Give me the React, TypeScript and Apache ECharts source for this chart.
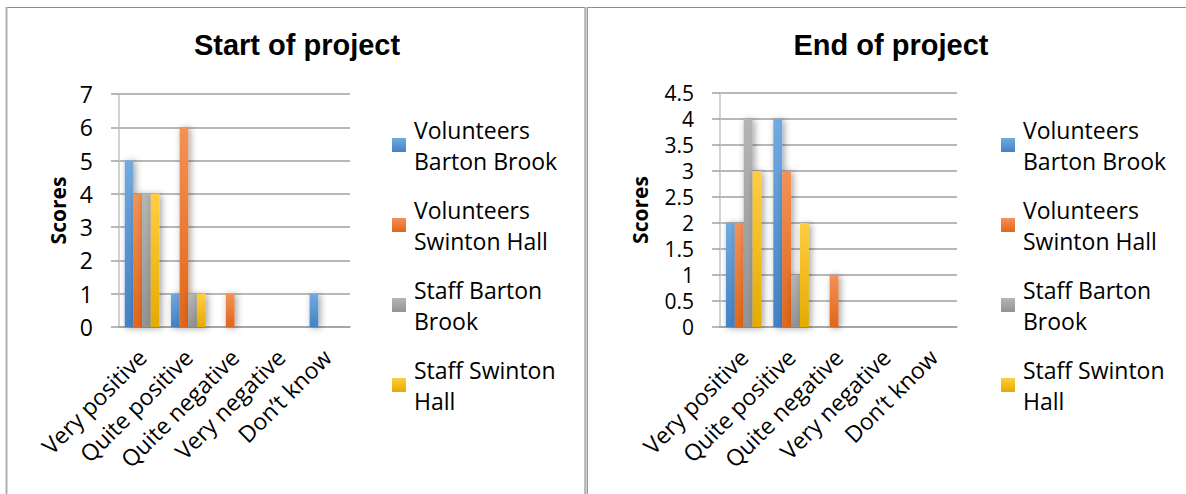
import React, { useEffect, useRef } from "react";
import * as echarts from "echarts";

const categories = ["Very positive", "Quite positive", "Quite negative", "Very negative", "Don’t know"];
const seriesNames = ["Volunteers Barton Brook", "Volunteers Swinton Hall", "Staff Barton Brook", "Staff Swinton Hall"];
const legendLabels = ["Volunteers\nBarton Brook", "Volunteers\nSwinton Hall", "Staff Barton\nBrook", "Staff Swinton\nHall"];

const startVolBarton = [5, 1, 0, 0, 1];
const startVolSwinton = [4, 6, 1, 0, 0];
const startStaffBarton = [4, 1, 0, 0, 0];
const startStaffSwinton = [4, 1, 0, 0, 0];

const endVolBarton = [2, 4, 0, 0, 0];
const endVolSwinton = [2, 3, 1, 0, 0];
const endStaffBarton = [4, 1, 0, 0, 0];
const endStaffSwinton = [3, 2, 0, 0, 0];

const chartTitles = ["Start of project", "End of project"];
const yMax = [7, 4.5];
const yStep = [1, 0.5];

const palette = [
  ["#72aae0", "#4282c4"],
  ["#f39256", "#e0661a"],
  ["#b5b5b5", "#939393"],
  ["#ffcd42", "#e4ab00"],
];

const FONT = "'Open Sans', sans-serif";

export default function App() {
  const ref = useRef<HTMLDivElement>(null);
  useEffect(() => {
    if (!ref.current) return;
    const chart = echarts.init(ref.current, undefined, { renderer: "svg" });
    const grad = (i: number) =>
      new echarts.graphic.LinearGradient(0, 0, 0, 1, [
        { offset: 0, color: palette[i][0] },
        { offset: 1, color: palette[i][1] },
      ]);
    const dataSets = [
      [startVolBarton, startVolSwinton, startStaffBarton, startStaffSwinton],
      [endVolBarton, endVolSwinton, endStaffBarton, endStaffSwinton],
    ];
    const grids = [
      { left: 119, top: 94, width: 231, height: 233 },
      { left: 720, top: 93, width: 237, height: 234 },
    ];
    const nameGaps = [51, 70];
    const legendLeft = [392, 1001];
    const titleX = [297, 891];
    const yLabelSize = [23, 21];

    const series: any[] = [];
    dataSets.forEach((sets, g) => {
      sets.forEach((vals, i) => {
        series.push({
          type: "bar",
          name: seriesNames[i],
          xAxisIndex: g,
          yAxisIndex: g,
          data: vals,
          barGap: "0%",
          barCategoryGap: "25%",
          itemStyle: {
            color: grad(i),
            shadowBlur: 7,
            shadowColor: "rgba(0,0,0,0.38)",
            shadowOffsetX: 2,
            shadowOffsetY: 1,
          },
        });
      });
    });

    const option: any = {
      animation: false,
      backgroundColor: "#ffffff",
      title: chartTitles.map((t, g) => ({
        text: t,
        left: titleX[g],
        top: 30,
        padding: 0,
        textAlign: "center",
        textStyle: { fontFamily: "'Liberation Sans', Arial, sans-serif", fontWeight: "bold", fontSize: 29, color: "#000" },
      })),
      grid: grids,
      xAxis: grids.map((_, g) => ({
        type: "category",
        gridIndex: g,
        data: categories,
        axisLine: { show: true, lineStyle: { color: "#a0a0a0", width: 1.5 } },
        axisTick: { show: false },
        axisLabel: {
          interval: 0,
          rotate: 45,
          margin: 26,
          fontFamily: FONT,
          fontSize: 23,
          color: "#000",
        },
      })),
      yAxis: grids.map((_, g) => ({
        type: "value",
        gridIndex: g,
        min: 0,
        max: yMax[g],
        interval: yStep[g],
        name: "Scores",
        nameLocation: "middle",
        nameGap: nameGaps[g],
        nameTextStyle: { fontFamily: FONT, fontWeight: "bold", fontSize: 21, color: "#000" },
        axisLine: { show: true, lineStyle: { color: "#c4c4c4", width: 1.5 } },
        axisTick: { show: true, length: 8, lineStyle: { color: "#a0a0a0", width: 1.5 } },
        splitLine: { show: true, lineStyle: { color: "#a0a0a0", width: 1.5 } },
        axisLabel: { margin: 26, fontFamily: FONT, fontSize: yLabelSize[g], lineHeight: 24, color: "#000" },
      })),
      legend: grids.map((_, g) => ({
        orient: "vertical",
        left: legendLeft[g],
        top: 98.5,
        padding: 0,
        itemGap: -13,
        itemWidth: 14,
        itemHeight: 14,
        icon: "rect",
        selectedMode: false,
        data: seriesNames,
        formatter: (name: string) => legendLabels[seriesNames.indexOf(name)],
        textStyle: {
          fontFamily: FONT,
          fontSize: 23,
          lineHeight: 31,
          color: "#000",
          padding: [31, 0, 0, 3],
        },
      })),
      graphic: [
        { type: "line", shape: { x1: 6, y1: 7.5, x2: 1186, y2: 7.5 }, style: { stroke: "#8c8c8c", lineWidth: 1.2 } },
        { type: "line", shape: { x1: 6.5, y1: 7, x2: 6.5, y2: 494 }, style: { stroke: "#b0b0b0", lineWidth: 2 } },
        { type: "rect", shape: { x: 584.5, y: 7, width: 3, height: 487 }, style: { fill: "#d0d0d0" } },
        { type: "line", shape: { x1: 585, y1: 7, x2: 585, y2: 494 }, style: { stroke: "#9a9a9a", lineWidth: 1 } },
        { type: "line", shape: { x1: 587.5, y1: 7, x2: 587.5, y2: 494 }, style: { stroke: "#9a9a9a", lineWidth: 1 } },
      ],
      series,
    };
    chart.setOption(option);
    return () => chart.dispose();
  }, []);
  return (
    <div
      ref={ref}
      style={{ position: "absolute", left: 0, top: 0, width: 1186, height: 494, background: "#fff" }}
    />
  );
}
